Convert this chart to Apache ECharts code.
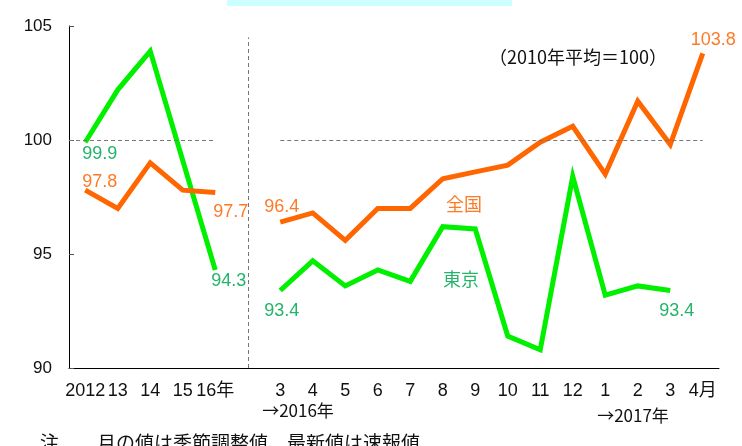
<!DOCTYPE html>
<html>
<head>
<meta charset="utf-8">
<script src="https://cdn.jsdelivr.net/npm/echarts@6/dist/echarts.min.js"></script>
<style>
html,body{margin:0;padding:0;background:#fff;}
#chart{width:742px;height:446px;}
</style>
</head>
<body>
<div id="chart"></div>
<script>
// ---- data ----
const categories = ['2012','13','14','15','16年','','3','4','5','6','7','8','9','10','11','12','1','2','3','4月'];
const zenkoku = [97.8, 97.0, 99.0, 97.8, 97.7, null, 96.4, 96.8, 95.6, 97.0, 97.0, 98.3, 98.6, 98.9, 99.9, 100.6, 98.5, 101.7, 99.8, 103.8];
const tokyo   = [99.9, 102.2, 103.9, 99.1, 94.3, null, 93.4, 94.7, 93.6, 94.3, 93.8, 96.2, 96.1, 91.4, 90.8, 98.4, 93.2, 93.6, 93.4, null];
const yTicks = [90, 95, 100, 105];
const baseLevel = 100;
// ---- styles ----
const FONT = 'Liberation Sans, Arial, "Noto Sans CJK JP", sans-serif';
const CJK = '"Noto Sans CJK JP", sans-serif';
const ORANGE = '#ff6600', ORANGE_TXT = '#ff7a26';
const GREEN = '#00f000', GREEN_TXT = '#22b46a';
// label placement (index -> [dx, dy] offset from the point)
const zLabelPos = {0: [-3, -8], 4: [-2, 20], 6: [-16, -15], 19: [-12, -13]};
const tLabelPos = {0: [-3, 12], 4: [-4, 11], 6: [-16, 21], 18: [-11, 21]};

function build(values, posMap, color) {
  return values.map((v, i) => {
    if (posMap[i] && v != null) {
      return {value: v, label: {show: true, position: posMap[i], align: 'left', verticalAlign: 'middle',
        color: color, fontSize: 18, fontFamily: FONT, formatter: (p) => p.value.toFixed(1)}};
    }
    return v;
  });
}

const chart = echarts.init(document.getElementById('chart'), null, {renderer: 'canvas'});
const nCat = categories.length;
chart.setOption({
  animation: false,
  backgroundColor: '#fff',
  grid: {left: 69, right: 23, top: 26, bottom: 78, containLabel: false},
  xAxis: [{
    type: 'category', data: categories, boundaryGap: true,
    axisLine: {lineStyle: {color: '#000', width: 1}},
    axisTick: {inside: true, length: 5, lineStyle: {color: '#555'}, alignWithLabel: false, interval: 0},
    axisLabel: {interval: 0, color: '#111', fontSize: 18, fontFamily: FONT, margin: 14},
    splitLine: {show: false}
  }, {
    type: 'value', min: 0, max: nCat, show: false
  }],
  yAxis: {
    type: 'value', min: yTicks[0], max: yTicks[yTicks.length - 1], interval: 5,
    axisLine: {show: true, lineStyle: {color: '#000', width: 1}},
    axisTick: {show: true, inside: true, length: 5, lineStyle: {color: '#555'}},
    axisLabel: {color: '#111', fontSize: 17, fontFamily: FONT, margin: 17},
    splitLine: {show: false}
  },
  series: [
    {
      name: 'ref', type: 'line', xAxisIndex: 1, data: [],
      silent: true,
      markLine: {
        symbol: 'none', silent: true, animation: false,
        lineStyle: {color: '#777', type: [4, 3], width: 1},
        label: {show: false},
        data: [
          [{coord: [0, baseLevel]}, {coord: [4.5, baseLevel]}],
          [{coord: [6.5, baseLevel]}, {coord: [19.5, baseLevel]}],
          [{coord: [5.5, 90]}, {coord: [5.5, 104.5]}]
        ]
      }
    },
    {
      name: '東京', type: 'line', data: build(tokyo, tLabelPos, GREEN_TXT),
      connectNulls: false, showSymbol: true, symbol: 'circle', symbolSize: 0,
      lineStyle: {color: GREEN, width: 5, cap: 'butt', join: 'miter'},
      itemStyle: {color: GREEN}, z: 3
    },
    {
      name: '全国', type: 'line', data: build(zenkoku, zLabelPos, ORANGE_TXT),
      connectNulls: false, showSymbol: true, symbol: 'circle', symbolSize: 0,
      lineStyle: {color: ORANGE, width: 5, cap: 'butt', join: 'miter'},
      itemStyle: {color: ORANGE}, z: 4
    }
  ],
  graphic: [
    {type: 'rect', shape: {x: 227, y: 0, width: 285, height: 6}, style: {fill: '#ccffff'}, silent: true},
    {type: 'text', x: 489, y: 57, style: {text: '（2010年平均＝100）', font: '18px ' + CJK, fill: '#111', textVerticalAlign: 'middle'}},
    {type: 'text', x: 446, y: 204, style: {text: '全国', font: '18px ' + CJK, fill: ORANGE_TXT, textVerticalAlign: 'middle'}},
    {type: 'text', x: 443, y: 279, style: {text: '東京', font: '18px ' + CJK, fill: GREEN_TXT, textVerticalAlign: 'middle'}},
    {type: 'text', x: 298, y: 411, style: {text: '→2016年', font: '17px ' + CJK, fill: '#111', textAlign: 'center', textVerticalAlign: 'middle'}},
    {type: 'text', x: 633, y: 416, style: {text: '→2017年', font: '17px ' + CJK, fill: '#111', textAlign: 'center', textVerticalAlign: 'middle'}},
    {type: 'text', x: 40, y: 433, style: {text: '注　　月の値は季節調整値、最新値は速報値', font: '19px ' + CJK, fill: '#111', textVerticalAlign: 'top'}}
  ]
});
</script>
</body>
</html>
